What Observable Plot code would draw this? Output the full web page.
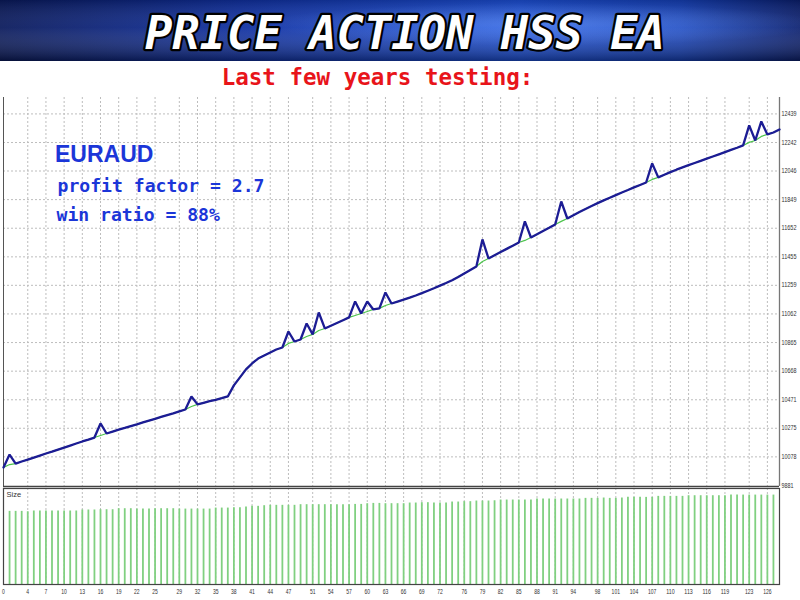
<!DOCTYPE html>
<html><head><meta charset="utf-8">
<script src="https://cdn.jsdelivr.net/npm/d3@7"></script>
<script src="https://cdn.jsdelivr.net/npm/@observablehq/plot@0.6"></script>
<style>
html,body{margin:0;padding:0;background:#fff;width:800px;height:600px;overflow:hidden;}
#page{position:relative;width:800px;height:600px;}
.abs{position:absolute;}
</style></head><body><div id="page">
<svg id="banner" class="abs" style="left:0;top:0" width="800" height="61">
 <defs>
  <linearGradient id="bg" x1="0" x2="1" y1="0" y2="0">
   <stop offset="0" stop-color="#0a1a5c"/>
   <stop offset="0.3" stop-color="#1030a0"/>
   <stop offset="0.65" stop-color="#1c4fd6"/>
   <stop offset="0.85" stop-color="#1540b8"/>
   <stop offset="1" stop-color="#0b1f6e"/>
  </linearGradient>
  <linearGradient id="shade" x1="0" x2="0" y1="0" y2="1">
   <stop offset="0" stop-color="#000" stop-opacity="0.2"/>
   <stop offset="0.45" stop-color="#fff" stop-opacity="0.06"/>
   <stop offset="1" stop-color="#000" stop-opacity="0.4"/>
  </linearGradient>
  <radialGradient id="glow" cx="0.68" cy="0.4" r="0.35">
   <stop offset="0" stop-color="#6fa0ff" stop-opacity="0.45"/>
   <stop offset="1" stop-color="#6fa0ff" stop-opacity="0"/>
  </radialGradient>
 </defs>
 <rect width="800" height="61" fill="url(#bg)"/>
 <rect width="800" height="61" fill="url(#glow)"/>
 <rect width="800" height="61" fill="url(#shade)"/>
 <text x="405" y="49" text-anchor="middle" font-family="DejaVu Sans Mono" font-weight="bold" font-style="italic" font-size="45.5" fill="#fff" stroke="#000" stroke-width="4.5" stroke-linejoin="round" paint-order="stroke" textLength="520" lengthAdjust="spacingAndGlyphs">PRICE ACTION HSS EA</text>
</svg>
<div id="main" class="abs" style="left:0;top:95px"></div>
<div id="size" class="abs" style="left:0;top:487px"></div>
<svg id="overlay" class="abs" style="left:0;top:0;pointer-events:none" width="800" height="600">
 <text x="377.5" y="84.5" text-anchor="middle" font-family="DejaVu Sans Mono" font-weight="bold" font-size="22.5" fill="#e8141a">Last few years testing:</text>
 <text x="55" y="161.7" font-family="Liberation Sans" font-weight="bold" font-size="23" fill="#1b36d8">EURAUD</text>
 <text x="57.5" y="191.5" font-family="DejaVu Sans Mono" font-weight="bold" font-size="18.1" fill="#1b36d8">profit factor = 2.7</text>
 <text x="56.5" y="221" font-family="DejaVu Sans Mono" font-weight="bold" font-size="18.1" fill="#1b36d8">win ratio = 88%</text>
</svg>
</div>
<script>
// ---- data ----
const balance = [
10005,10094,10032,10046,10059,10073,10087,10101,10114,10128,
10142,10156,10170,10184,10197,10211,10308,10239,10252,10265,
10277,10290,10302,10315,10328,10340,10353,10366,10378,10391,
10404,10494,10439,10450,10461,10471,10482,10494,10570,10625,
10680,10721,10755,10776,10797,10817,10831,10941,10872,10886,
10996,10921,11072,10962,10981,11000,11019,11038,11148,11065,
11148,11093,11100,11210,11134,11147,11160,11174,11189,11205,
11222,11239,11257,11275,11294,11317,11341,11365,11389,11575,
11444,11466,11488,11510,11532,11554,11699,11588,11610,11633,
11655,11678,11836,11719,11742,11764,11785,11805,11825,11844,
11862,11880,11898,11915,11933,11950,11967,12098,12002,12020,
12038,12055,12071,12086,12101,12116,12131,12146,12161,12176,
12191,12206,12222,12360,12256,12387,12298,12311,12332];

// equity (green) differs from balance only at these trade indices
const equityIdx = [1, 16, 31, 47, 50, 52, 58, 60, 63, 79, 86, 92, 107, 123, 125];
const equityVal = [10025, 10225, 10425, 10859, 10907, 10948, 11051, 11079, 11120, 11423, 11568, 11699, 11988, 12243, 12284];

// lot size bars, trades 1..127
const lots = [
0.800,0.800,0.800,0.796,0.804,0.804,0.804,0.804,0.804,0.804,
0.804,0.804,0.815,0.815,0.815,0.818,0.818,0.818,0.829,0.829,
0.829,0.825,0.825,0.825,0.829,0.829,0.829,0.829,0.825,0.825,
0.825,0.825,0.825,0.825,0.836,0.836,0.836,0.840,0.840,0.847,
0.855,0.855,0.862,0.866,0.866,0.866,0.866,0.866,0.873,0.873,
0.873,0.873,0.873,0.873,0.873,0.873,0.873,0.876,0.876,0.884,
0.887,0.887,0.884,0.884,0.884,0.884,0.891,0.891,0.895,0.895,
0.891,0.891,0.891,0.902,0.902,0.906,0.906,0.913,0.913,0.913,
0.916,0.924,0.924,0.924,0.924,0.924,0.924,0.935,0.935,0.935,
0.935,0.935,0.935,0.935,0.935,0.942,0.942,0.942,0.946,0.942,
0.942,0.946,0.953,0.953,0.953,0.953,0.953,0.964,0.964,0.964,
0.964,0.964,0.971,0.971,0.971,0.971,0.971,0.971,0.971,0.978,
0.978,0.978,0.978,0.978,0.978,0.978,0.978];

const yTicks = [9881,10078,10275,10471,10668,10865,11062,11259,11455,11652,11849,12046,12242,12439];
const xTicks = [0,4,7,10,13,16,19,22,25,29,32,35,38,41,44,47,51,54,57,60,63,66,69,72,76,79,82,85,88,91,94,98,101,104,107,110,113,116,119,123,126];

// ---- tables ----
const balanceData = balance.map((v, i) => ({i, v}));
const eqMap = new Map(equityIdx.map((k, j) => [k, equityVal[j]]));
const equityData = balance.map((v, i) => ({i, v: eqMap.has(i) ? eqMap.get(i) : v}));
const sizeData = lots.map((lot, j) => ({i: j + 1, lot}));

const grid = {stroke: "#bdbdbd", strokeOpacity: 1, strokeDasharray: "2,2", strokeWidth: 1};
const nMax = balance.length - 1;
const tickFont = "'Liberation Sans', sans-serif";

const mainChart = Plot.plot({
  width: 800, height: 392,
  marginLeft: 3, marginRight: 21, marginTop: 2, marginBottom: 1,
  x: {domain: [0, nMax], axis: null},
  y: {domain: [9874, 12552], axis: null},
  style: {background: "transparent", overflow: "visible"},
  marks: [
    Plot.gridX(xTicks.slice(1), grid),
    Plot.gridY(yTicks.slice(1), grid),
    Plot.axisY(yTicks, {anchor: "right", label: null, tickSize: 0, tickPadding: 2, fontSize: 6.4, fill: "#333", fontFamily: tickFont, tickFormat: d => String(d)}),
    Plot.ruleX([0], {stroke: "#555", strokeWidth: 1}),
    Plot.ruleX([nMax], {stroke: "#777", strokeWidth: 1.3}),
    Plot.ruleY([9874], {stroke: "#444", strokeWidth: 1.3}),
    Plot.line(equityData, {x: "i", y: "v", stroke: "#4cc44c", strokeWidth: 1.2}),
    Plot.line(balanceData, {x: "i", y: "v", stroke: "#1c1c94", strokeWidth: 2.3, strokeLinejoin: "miter"})
  ]
});
document.getElementById("main").appendChild(mainChart);

const sizeChart = Plot.plot({
  width: 800, height: 113,
  marginLeft: 3, marginRight: 21, marginTop: 1, marginBottom: 16,
  x: {domain: [0, nMax], axis: null},
  y: {domain: [0, 1.05], axis: null},
  style: {background: "transparent", overflow: "visible"},
  marks: [
    Plot.gridX(xTicks.slice(1), grid),
    Plot.ruleX(sizeData, {x: "i", y1: 0, y2: "lot", stroke: "#80d080", strokeWidth: 1.8}),
    Plot.frame({stroke: "#444", strokeWidth: 1.2}),
    Plot.axisX(xTicks, {anchor: "bottom", label: null, tickSize: 0, tickPadding: 4, fontSize: 8, fill: "#333", fontFamily: tickFont, tickFormat: d => String(d)}),
    Plot.text(["Size"], {frameAnchor: "top-left", dx: 3, dy: 3, fontSize: 7.5, fill: "#333", fontFamily: tickFont})
  ]
});
document.getElementById("size").appendChild(sizeChart);

// condensed tick labels like the tester's small font
d3.select(mainChart).selectAll('g[aria-label="y-axis tick label"] text')
  .attr("textLength", function() { return this.textContent.length * 3.0; })
  .attr("lengthAdjust", "spacingAndGlyphs");
d3.select(sizeChart).selectAll('g[aria-label="x-axis tick label"] text')
  .attr("textLength", function() { return this.textContent.length * 2.8; })
  .attr("lengthAdjust", "spacingAndGlyphs");
</script>
</body></html>
